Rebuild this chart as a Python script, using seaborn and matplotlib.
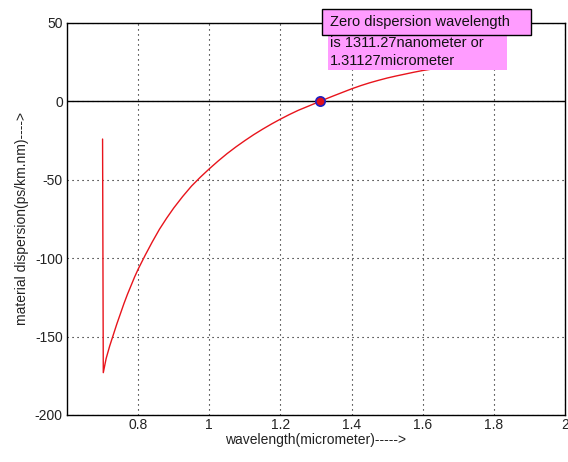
import matplotlib
matplotlib.use("Agg")
import matplotlib.pyplot as plt
import seaborn as sns
import pandas as pd
from matplotlib.patches import Rectangle

# data
wavelength = [0.700, 0.702, 0.71, 0.72, 0.73, 0.74, 0.75, 0.76, 0.77, 0.78, 0.79,
              0.80, 0.82, 0.84, 0.86, 0.88, 0.90, 0.925, 0.95, 0.975,
              1.00, 1.025, 1.05, 1.075, 1.10, 1.125, 1.15, 1.175, 1.20, 1.225,
              1.25, 1.28, 1.311, 1.33, 1.35, 1.375, 1.40, 1.425, 1.45, 1.475,
              1.50, 1.525, 1.55, 1.575, 1.60, 1.625]
dispersion = [-24, -173, -164, -156, -149, -142, -135.5, -129, -123, -117.5, -112,
              -107, -98, -89.5, -81.5, -74.5, -68, -60.7, -54, -48.3,
              -43, -38, -33.3, -29, -25, -21.2, -17.7, -14.4, -11.3, -8.4,
              -5.7, -2.9, 0, 1.8, 3.6, 5.8, 8.0, 10.0, 11.8, 13.4,
              14.9, 16.2, 17.4, 18.6, 19.7, 20.6]
zero_wl = [1.31127]
zero_d = [0.0]
xticks = [0.8, 1.0, 1.2, 1.4, 1.6, 1.8, 2.0]
xticklabels = ["0.8", "1", "1.2", "1.4", "1.6", "1.8", "2"]
yticks = [-200, -150, -100, -50, 0, 50]
yticklabels = ["-200", "-150", "-100", "-50", "0", "50"]
note_lines = ["Zero dispersion wavelength", "is 1311.27nanometer or", "1.31127micrometer"]

sns.set_theme(style="white")
plt.rcParams["font.family"] = ["Liberation Sans", "DejaVu Sans"]

W, H = 568, 462
fig = plt.figure(figsize=(W / 100, H / 100), dpi=100)
L, R, T, B = 67, 565, 23, 415
ax = fig.add_axes([L / W, 1 - B / H, (R - L) / W, (B - T) / H])

df = pd.DataFrame({"x": wavelength, "y": dispersion})
sns.lineplot(data=df, x="x", y="y", sort=False, estimator=None, ax=ax,
             color="#e8141c", linewidth=1.0, zorder=4)
ax.axhline(0, color="black", linewidth=1.0, zorder=3)
sns.scatterplot(x=zero_wl, y=zero_d, ax=ax, s=45, color="#e0101a",
                edgecolor="#2020c0", linewidth=1.2, zorder=5)

ax.set_xlim(0.6, 2.0)
ax.set_ylim(-200, 50)
ax.set_xticks(xticks)
ax.set_xticklabels(xticklabels)
ax.set_yticks(yticks)
ax.set_yticklabels(yticklabels)
ax.grid(True, color="black", linestyle=(0, (1, 3.5)), linewidth=0.8)
ax.tick_params(axis="both", labelsize=10, colors="#222222", length=3, direction="in",
               pad=3)
ax.tick_params(axis="x", pad=2)
for s in ax.spines.values():
    s.set_color("black")
    s.set_linewidth(1.0)
    s.set_visible(True)
ax.set_xlabel("wavelength(micrometer)----->", fontsize=10, color="#222222", labelpad=1)
ax.set_ylabel("material dispersion(ps/km.nm)---->", fontsize=10, color="#222222", labelpad=4)

# annotation box (figure pixel coordinates)
def px(x, y):
    return x / W, 1 - y / H

pink = "#ff9cff"
x0, y0 = px(328, 70)
x1, y1 = px(507, 35)
fig.patches.append(Rectangle((x0, y0), x1 - x0, y1 - y0, transform=fig.transFigure,
                             facecolor=pink, edgecolor="none", zorder=10))
x0, y0 = px(322, 35)
x1, y1 = px(531, 9)
fig.patches.append(Rectangle((x0, y0), x1 - x0, y1 - y0, transform=fig.transFigure,
                             facecolor=pink, edgecolor="black", linewidth=1.0, zorder=11))
for line, ypix in zip(note_lines, [22, 43, 61]):
    tx, ty = px(330, ypix)
    fig.text(tx, ty, line, fontsize=10.5, color="#111111", va="center", ha="left",
             zorder=12)

fig.savefig("out.png", dpi=100, facecolor="white")
